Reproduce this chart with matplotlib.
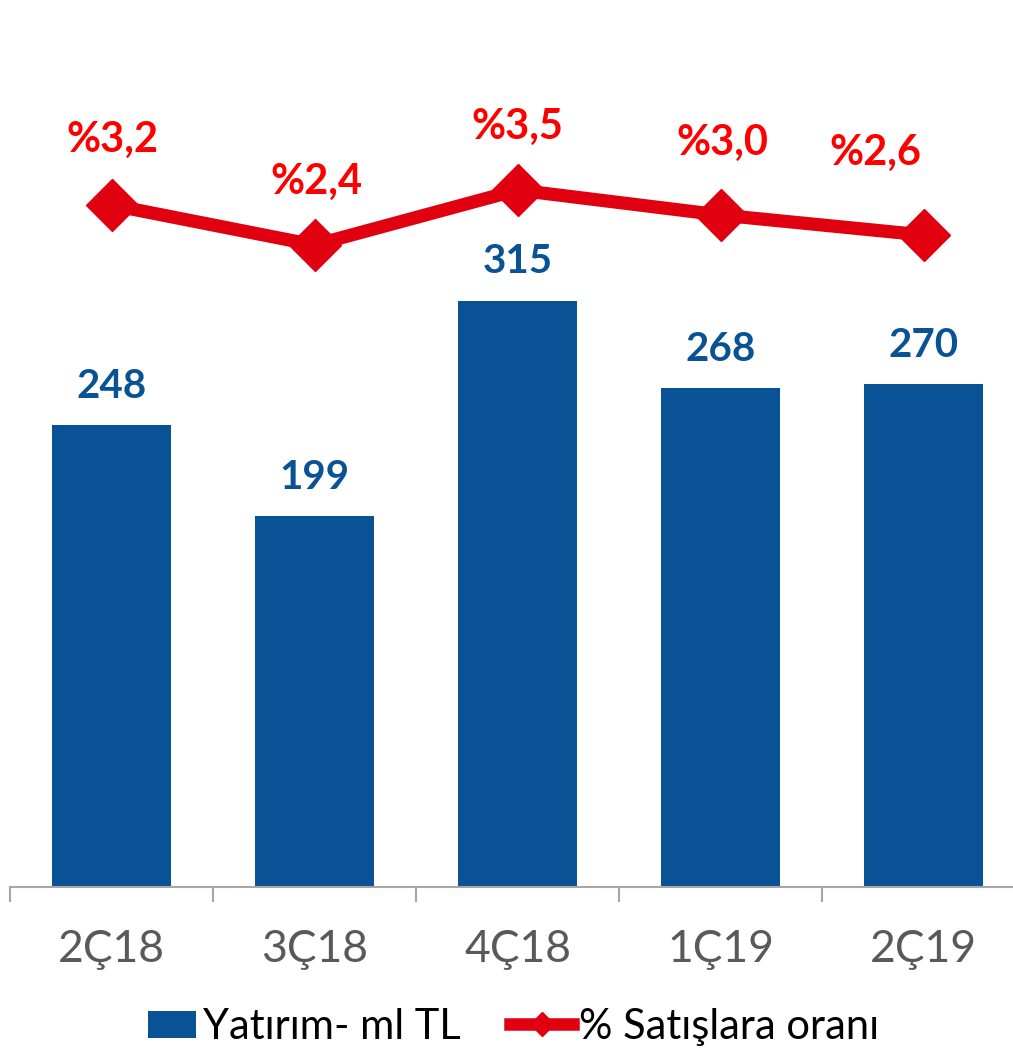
import matplotlib
matplotlib.use("Agg")
import matplotlib.pyplot as plt
from matplotlib.lines import Line2D
from matplotlib.patches import Patch, Rectangle
from matplotlib.legend_handler import HandlerPatch

categories = ["2Ç18", "3Ç18", "4Ç18", "1Ç19", "2Ç19"]
investment = [248, 199, 315, 268, 270]
ratio = [3.2, 2.4, 3.5, 3.0, 2.6]
ratio_labels = ["%3,2", "%2,4", "%3,5", "%3,0", "%2,6"]

# label placement offsets (pixels) relative to the markers
ratio_label_dx = [1, 2, 0, 2, -48]
ratio_label_dy = [65, 63, 63, 72, 82]

BLUE = "#0A5296"
RED = "#E0000F"
LABEL_RED = "#FF0000"
GREY = "#595959"

plt.rcParams['font.family'] = ['Lato', 'DejaVu Sans']

W, H = 1013, 1053
fig = plt.figure(figsize=(W / 100, H / 100), dpi=100)
ax = fig.add_axes([10 / W, 166 / H, 1015 / W, 887 / H])

x = list(range(len(categories)))
ax.bar(x, investment, width=0.59, color=BLUE, zorder=2)
ax.set_xlim(-0.5, 4.5)
ax.set_ylim(0, 476.4)
for xi, v in zip(x, investment):
    ax.annotate(str(v), (xi, v), xytext=(0, 39), textcoords="offset pixels",
                ha="center", va="center", fontsize=29, fontweight="bold", color=BLUE)

for s in ["top", "left", "right"]:
    ax.spines[s].set_visible(False)
ax.spines["bottom"].set_color("#A6A6A6")
ax.spines["bottom"].set_linewidth(1.5)
ax.set_yticks([])
ax.set_xticks([i - 0.5 for i in range(len(categories) + 1)])
ax.set_xticklabels([])
ax.tick_params(axis="x", which="major", length=11, width=1.5, color="#A6A6A6")
ax.set_xticks(x, minor=True)
ax.set_xticklabels(categories, minor=True, fontsize=32, color=GREY)
ax.tick_params(axis="x", which="minor", length=0, pad=30)

ax2 = ax.twinx()
ax2.set_ylim(-10.44, 7.3)
ax2.plot(x, ratio, color=RED, lw=9.5, marker="D", markersize=26, zorder=3)
for xi, v, lab, dx, dy in zip(x, ratio, ratio_labels, ratio_label_dx, ratio_label_dy):
    ax2.annotate(lab, (xi, v), xytext=(dx, dy), textcoords="offset pixels",
                 ha="center", va="center", fontsize=30, fontweight="bold", color=LABEL_RED)
ax2.axis("off")


def small_rect(legend, orig_handle, xdescent, ydescent, width, height, fontsize):
    w, h = 34.6, 19.4
    return Rectangle((-xdescent + width - w, -ydescent + (height - h) / 2), w, h)


handles = [Patch(facecolor=BLUE, edgecolor="none"),
           Line2D([], [], color=RED, lw=9, marker="D", markersize=12)]
fig.legend(handles, ["Yatırım- ml TL", "% Satışlara oranı"], loc="center",
           bbox_to_anchor=(0.5, (1053 - 1027) / H), ncol=2, frameon=False,
           fontsize=30, handlelength=1.5, handleheight=0.7, handletextpad=0.15,
           columnspacing=1.2,
           handler_map={Patch: HandlerPatch(patch_func=small_rect)})

fig.savefig("out.png", dpi=100)
